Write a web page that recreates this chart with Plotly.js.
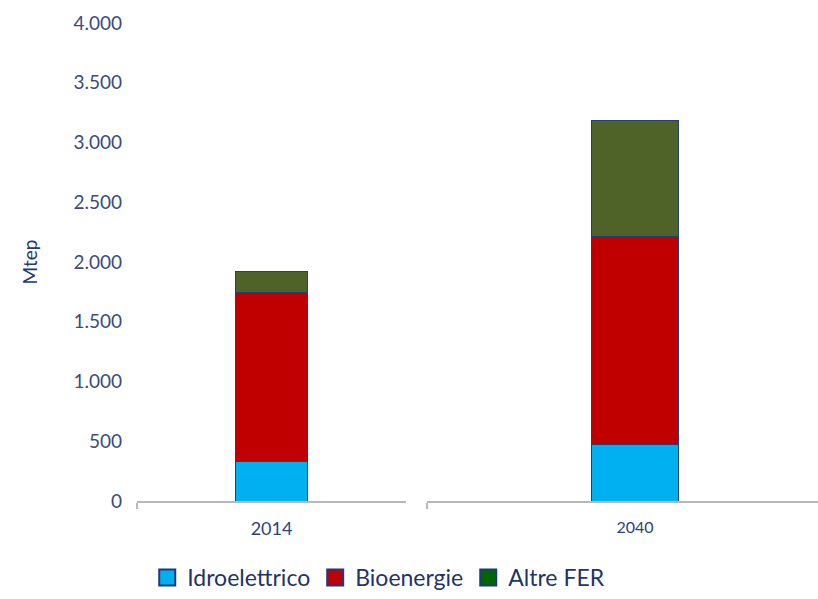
<!DOCTYPE html>
<html>
<head>
<meta charset="utf-8">
<script src="https://cdn.plot.ly/plotly-3.0.1.min.js"></script>
<style>html,body{margin:0;padding:0;background:#fff;}#chart{width:818px;height:599px;}</style>
</head>
<body>
<div id="chart"></div>
<script>
// Data (Mtep)
const years = ["2014", "2040"];
const seriesNames = ["Idroelettrico", "Bioenergie", "Altre FER"];
const idroelettrico = [330, 475];
const bioenergie = [1412, 1741];
const altreFER = [178, 966];
const yTicks = [0, 500, 1000, 1500, 2000, 2500, 3000, 3500, 4000];

const barColors = ["#00B0F0", "#C00000", "#4F6228"];
const legendColors = ["#00B0F0", "#C00000", "#006600"];
const values = [idroelettrico, bioenergie, altreFER];
const FONT = "Lato, 'Liberation Sans', sans-serif";

const traces = [];
values.forEach((vals, s) => {
  // 2014 on first axis segment
  traces.push({
    type: "bar", name: seriesNames[s], x: [years[0]], y: [vals[0]],
    xaxis: "x", yaxis: "y", width: 0.264, showlegend: false,
    marker: {color: barColors[s], line: {color: "#243F73", width: 1}},
    hoverinfo: "name+y"
  });
  // 2040 on second axis segment
  traces.push({
    type: "bar", name: seriesNames[s], x: [years[1]], y: [vals[1]],
    xaxis: "x2", yaxis: "y", width: 0.209, showlegend: false,
    marker: {color: barColors[s], line: {color: "#243F73", width: 1}},
    hoverinfo: "name+y"
  });
});
// legend entries
seriesNames.forEach((n, s) => {
  traces.push({
    type: "scatter", mode: "markers", name: n, x: [null], y: [null],
    xaxis: "x", yaxis: "y", showlegend: true,
    marker: {symbol: "square", size: 16, color: legendColors[s], line: {color: "#1F3A78", width: 2}}
  });
});

const layout = {
  width: 818, height: 599,
  margin: {l: 137, r: 0, t: 23, b: 98},
  paper_bgcolor: "#fff", plot_bgcolor: "#fff",
  separators: ",.",
  barmode: "stack",
  font: {family: FONT, color: "#2E4277"},
  showlegend: true,
  legend: {
    orientation: "h", xref: "container", yref: "container",
    x: 0.463, xanchor: "center", y: 0, yanchor: "bottom",
    font: {family: FONT, size: 23, color: "#1F3468"},
    itemsizing: "trace", traceorder: "normal"
  },
  xaxis: {
    domain: [0, 0.395], type: "category", range: [-0.5, 0.5],
    showline: true, linecolor: "#B8B8B8", linewidth: 1.5,
    ticks: "outside", tickson: "boundaries", ticklen: 6, tickcolor: "#B8B8B8", tickwidth: 1.5,
    ticklabelstandoff: 11,
    tickfont: {family: FONT, size: 18, color: "#2E4277"},
    showgrid: false, zeroline: false, anchor: "y", fixedrange: true
  },
  xaxis2: {
    domain: [0.4258, 1], type: "category", range: [-0.5, 0.44],
    showline: true, linecolor: "#B8B8B8", linewidth: 1.5,
    ticks: "outside", tickson: "boundaries", ticklen: 6, tickcolor: "#B8B8B8", tickwidth: 1.5,
    ticklabelstandoff: 11,
    tickfont: {family: FONT, size: 16, color: "#2E4277"},
    showgrid: false, zeroline: false, anchor: "y", fixedrange: true
  },
  yaxis: {
    range: [0, 4000], tickvals: yTicks, tickformat: ",d",
    showline: false, showgrid: false, zeroline: false, ticks: "",
    ticklabelstandoff: 14,
    tickfont: {family: FONT, size: 19, color: "#3A4B7E"},
    title: {text: "Mtep", font: {family: FONT, size: 19, color: "#233A70"}, standoff: 30},
    anchor: "x", fixedrange: true
  }
};

Plotly.newPlot("chart", traces, layout, {displayModeBar: false, staticPlot: true});
</script>
</body>
</html>
